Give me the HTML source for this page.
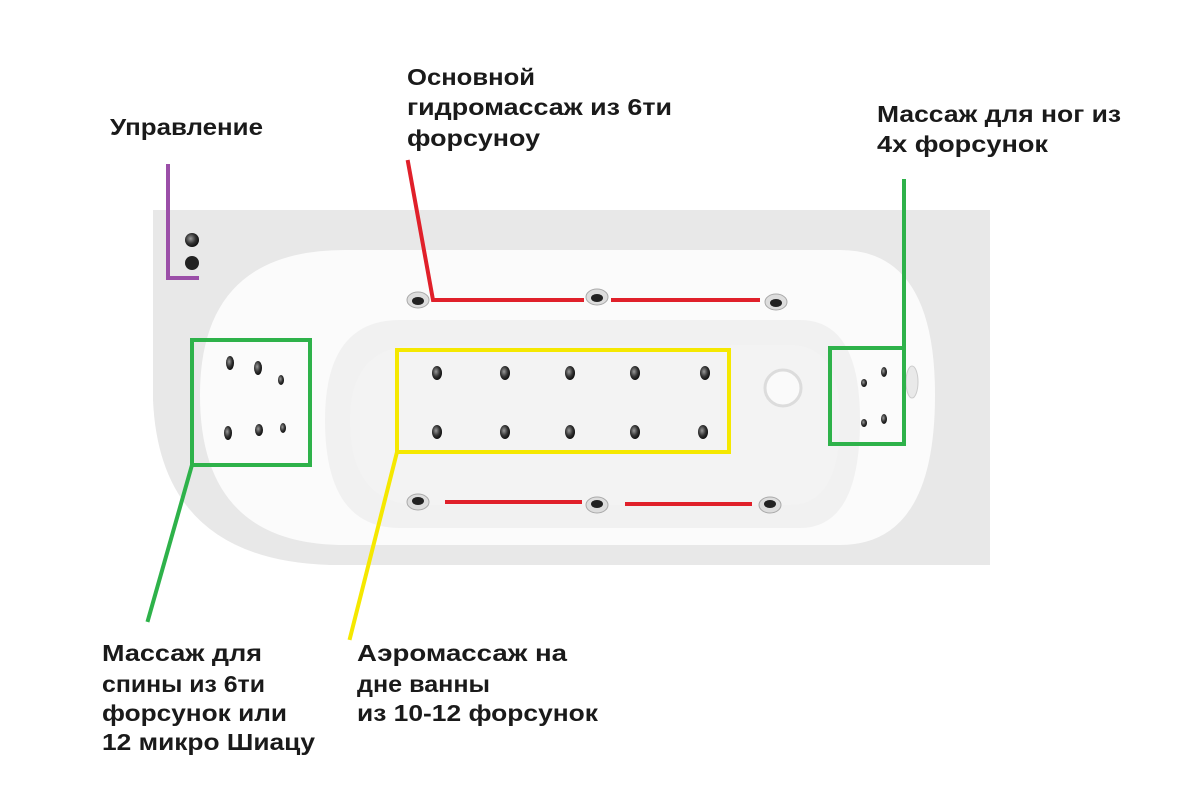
<!DOCTYPE html>
<html><head><meta charset="utf-8"><style>
html,body{margin:0;padding:0;background:#fff;}
svg{display:block;}
text{font-family:"Liberation Sans",sans-serif;font-weight:bold;font-size:23px;fill:#1a1a1a;}
</style></head><body>
<svg width="1200" height="800" viewBox="0 0 1200 800" xmlns="http://www.w3.org/2000/svg">
<defs>
<radialGradient id="jet" cx="0.4" cy="0.4" r="0.6"><stop offset="0" stop-color="#999"/><stop offset="0.6" stop-color="#333"/><stop offset="1" stop-color="#111"/></radialGradient>
</defs>
<path d="M153,210 H990 V565 H330 Q160,560 153,400 Z" fill="#e8e8e8"/>
<path d="M345,250 H840 Q935,250 935,395 Q935,545 840,545 H345 Q200,545 200,395 Q200,250 345,250 Z" fill="#fbfbfb"/>
<path d="M400,320 H800 Q860,320 860,420 Q860,528 800,528 H400 Q325,528 325,420 Q325,320 400,320 Z" fill="#f1f1f1"/>
<path d="M420,345 H790 Q840,345 840,420 Q840,505 790,505 H420 Q350,505 350,420 Q350,345 420,345 Z" fill="#f3f3f3"/>
<circle cx="783" cy="388" r="18" fill="#fafafa" stroke="#dcdcdc" stroke-width="3"/>
<ellipse cx="912" cy="382" rx="6" ry="16" fill="#e9e9e9" stroke="#ccc"/>
<circle cx="192" cy="240" r="7" fill="url(#jet)"/>
<circle cx="192" cy="263" r="7" fill="#222"/>
<g fill="#ddd" stroke="#aaa">
<ellipse cx="418" cy="300" rx="11" ry="8"/><ellipse cx="597" cy="297" rx="11" ry="8"/><ellipse cx="776" cy="302" rx="11" ry="8"/>
<ellipse cx="418" cy="502" rx="11" ry="8"/><ellipse cx="597" cy="505" rx="11" ry="8"/><ellipse cx="770" cy="505" rx="11" ry="8"/>
</g>
<g fill="#222">
<ellipse cx="418" cy="301" rx="6" ry="4"/><ellipse cx="597" cy="298" rx="6" ry="4"/><ellipse cx="776" cy="303" rx="6" ry="4"/>
<ellipse cx="418" cy="501" rx="6" ry="4"/><ellipse cx="597" cy="504" rx="6" ry="4"/><ellipse cx="770" cy="504" rx="6" ry="4"/>
</g>
<g fill="url(#jet)">
<ellipse cx="437" cy="373" rx="5" ry="7"/><ellipse cx="505" cy="373" rx="5" ry="7"/><ellipse cx="570" cy="373" rx="5" ry="7"/><ellipse cx="635" cy="373" rx="5" ry="7"/><ellipse cx="705" cy="373" rx="5" ry="7"/>
<ellipse cx="437" cy="432" rx="5" ry="7"/><ellipse cx="505" cy="432" rx="5" ry="7"/><ellipse cx="570" cy="432" rx="5" ry="7"/><ellipse cx="635" cy="432" rx="5" ry="7"/><ellipse cx="703" cy="432" rx="5" ry="7"/>
<ellipse cx="230" cy="363" rx="4" ry="7"/><ellipse cx="258" cy="368" rx="4" ry="7"/><ellipse cx="281" cy="380" rx="3" ry="5"/>
<ellipse cx="228" cy="433" rx="4" ry="7"/><ellipse cx="259" cy="430" rx="4" ry="6"/><ellipse cx="283" cy="428" rx="3" ry="5"/>
<ellipse cx="884" cy="372" rx="3" ry="5"/><ellipse cx="864" cy="383" rx="3" ry="4"/><ellipse cx="884" cy="419" rx="3" ry="5"/><ellipse cx="864" cy="423" rx="3" ry="4"/>
</g>
<g fill="none" stroke-width="4" stroke-linecap="square">
<polyline points="168,166 168,278 197,278" stroke="#9b4fa8"/>
<polyline points="408,162 433,300 582,300" stroke="#e0202a"/>
<line x1="613" y1="300" x2="758" y2="300" stroke="#e0202a"/>
<line x1="447" y1="502" x2="580" y2="502" stroke="#e0202a"/>
<line x1="627" y1="504" x2="750" y2="504" stroke="#e0202a"/>
<rect x="397" y="350" width="332" height="102" stroke="#f5e800"/>
<line x1="397" y1="452" x2="350" y2="638" stroke="#f5e800"/>
<rect x="192" y="340" width="118" height="125" stroke="#2eb24a"/>
<line x1="192" y1="465" x2="148" y2="620" stroke="#2eb24a"/>
<rect x="830" y="348" width="74" height="96" stroke="#2eb24a"/>
<line x1="904" y1="348" x2="904" y2="181" stroke="#2eb24a"/>
</g>
<text x="110" y="135" textLength="153" lengthAdjust="spacingAndGlyphs">Управление</text>
<text x="407" y="85" textLength="128" lengthAdjust="spacingAndGlyphs">Основной</text>
<text x="407" y="115" textLength="265" lengthAdjust="spacingAndGlyphs">гидромассаж из 6ти</text>
<text x="407" y="146" textLength="133" lengthAdjust="spacingAndGlyphs">форсуноу</text>
<text x="877" y="122" textLength="244" lengthAdjust="spacingAndGlyphs">Массаж для ног из</text>
<text x="877" y="152" textLength="171" lengthAdjust="spacingAndGlyphs">4х форсунок</text>
<text x="102" y="661" textLength="160" lengthAdjust="spacingAndGlyphs">Массаж для</text>
<text x="102" y="692" textLength="163" lengthAdjust="spacingAndGlyphs">спины из 6ти</text>
<text x="102" y="721" textLength="185" lengthAdjust="spacingAndGlyphs">форсунок или</text>
<text x="102" y="750" textLength="213" lengthAdjust="spacingAndGlyphs">12 микро Шиацу</text>
<text x="357" y="661" textLength="210" lengthAdjust="spacingAndGlyphs">Аэромассаж на</text>
<text x="357" y="692" textLength="133" lengthAdjust="spacingAndGlyphs">дне ванны</text>
<text x="357" y="721" textLength="241" lengthAdjust="spacingAndGlyphs">из 10-12 форсунок</text>
</svg>
</body></html>
